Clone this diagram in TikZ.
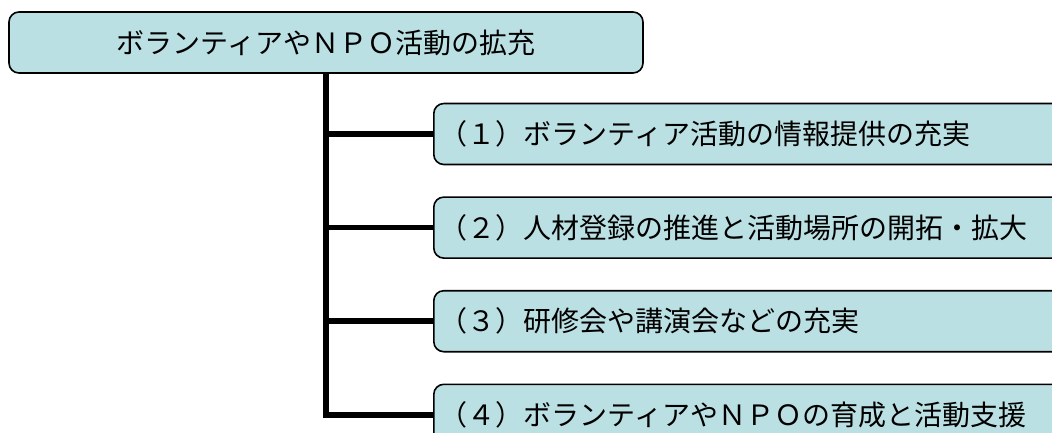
\documentclass[tikz,border=0pt]{standalone}
\usepackage{fontspec}
\setmainfont{Noto Sans CJK JP}
\usetikzlibrary{positioning}
\definecolor{boxfill}{RGB}{187,224,227}
\tikzset{
  item/.style={draw=black, line width=1.6pt, fill=boxfill, rounded corners=10pt,
    minimum height=61pt, font=\fontsize{28}{33}\selectfont},
  sub/.style={item, text width=690pt, inner xsep=6pt, align=left},
  branch/.style={line width=5.5pt}
}

\begin{document}
\begin{tikzpicture}[x=1pt,y=-1pt]
      \useasboundingbox (0,0) rectangle (1052,432);
      \clip (0,0) rectangle (1052,432);
      % Define nodes
      \node[item, minimum width=634pt] (goal) at (326,42.5) {ボランティアやＮＰＯ活動の拡充};
      \node[sub, anchor=west] (m1) at (433,134) {（１）ボランティア活動の情報提供の充実};
      \node[sub, below=31pt of m1] (m2) {（２）人材登録の推進と活動場所の開拓・拡大};
      \node[sub, below=31pt of m2] (m3) {（３）研修会や講演会などの充実};
      \node[sub, below=31pt of m3] (m4) {（４）ボランティアやＮＰＯの育成と活動支援};
      % Connect nodes
      \draw[branch] (goal.south) |- (m4.west);
      \foreach \m in {m1,m2,m3}
        \draw[branch] (goal.south |- \m.west) -- (\m.west);
    \end{tikzpicture}
\end{document}
